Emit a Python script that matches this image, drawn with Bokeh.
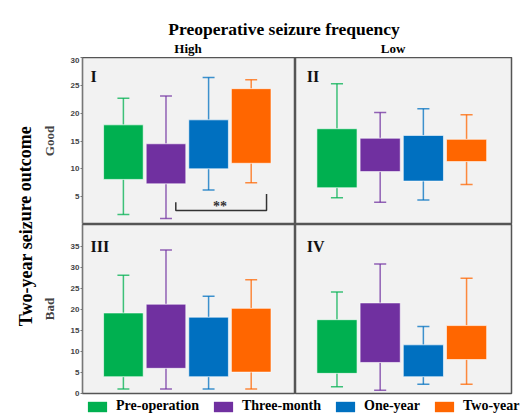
from bokeh.plotting import figure
from bokeh.layouts import row, column
from bokeh.models import Range1d, FixedTicker, Label, Legend, LegendItem, ColumnDataSource
from bokeh.embed import file_html
from bokeh.resources import INLINE
from bokeh.core.properties import value

# ---------------- data ----------------
groups = ["Pre-operation", "Three-month", "One-year", "Two-year"]
colors = ["#00B050", "#7030A0", "#0070C0", "#FF6600"]
positions = [1, 2, 3, 4]

# Panel I : High frequency, Good outcome
p1_low = [1.8, 1.1, 6.2, 7.5]
p1_q1 = [8.1, 7.3, 10.0, 11.0]
p1_q3 = [17.9, 14.5, 18.8, 24.4]
p1_high = [22.7, 23.1, 26.4, 26.0]

# Panel II : Low frequency, Good outcome
p2_low = [4.8, 4.0, 4.4, 7.2]
p2_q1 = [6.6, 9.5, 7.8, 11.3]
p2_q3 = [17.2, 15.5, 16.0, 15.3]
p2_high = [25.3, 20.1, 20.8, 19.7]

# Panel III : High frequency, Bad outcome
p3_low = [1.1, 1.1, 1.1, 1.1]
p3_q1 = [4.0, 6.0, 4.0, 5.1]
p3_q3 = [19.2, 21.3, 18.2, 20.3]
p3_high = [28.2, 34.2, 23.2, 27.1]

# Panel IV : Low frequency, Bad outcome
p4_low = [1.6, 0.8, 2.2, 2.2]
p4_q1 = [4.8, 7.4, 4.0, 8.1]
p4_q3 = [17.6, 21.6, 11.6, 16.2]
p4_high = [24.2, 30.9, 16.0, 27.5]

top_ticks = [5, 10, 15, 20, 25, 30]
bottom_ticks = [0, 5, 10, 15, 20, 25, 30, 35]

# significance bracket in panel I (One-year vs Two-year region)
bracket_x = [2.23, 2.23, 4.36, 4.36]
bracket_y = [4.0, 2.5, 2.5, 5.5]
sig_text = "**"

SERIF = "Liberation Serif"
BG = "#F2F2F2"
BOX_W = 0.93
CAP_W = 0.28


def panel(width, height, yr, left_border, right_border, bottom_border, show_axis, ticks, ylabel):
    p = figure(width=width, height=height, output_backend="svg", toolbar_location=None,
               x_range=Range1d(0.04, 5.04), y_range=yr,
               x_axis_location=None, y_axis_location="left" if show_axis else None,
               min_border_left=left_border, min_border_right=right_border,
               min_border_top=0, min_border_bottom=bottom_border)
    p.background_fill_color = BG
    p.border_fill_color = "white"
    p.grid.visible = False
    p.outline_line_color = "#555555"
    p.outline_line_width = 1.5
    if show_axis:
        ax = p.yaxis[0]
        ax.ticker = FixedTicker(ticks=ticks)
        ax.major_tick_out = 2
        ax.major_tick_in = 0
        ax.minor_tick_out = 0
        ax.minor_tick_in = 0
        ax.major_label_standoff = 1
        ax.major_label_text_font = "Liberation Sans"
        ax.major_label_text_font_size = "8px"
        ax.major_label_text_font_style = "bold"
        ax.major_label_text_color = "#444444"
        ax.axis_line_color = "#777777"
        ax.major_tick_line_color = "#777777"
        ax.axis_label = ylabel
        ax.axis_label_text_font = SERIF
        ax.axis_label_text_font_style = "bold"
        ax.axis_label_text_font_size = "13px"
        ax.axis_label_standoff = 11
    return p


def draw_boxes(p, low, q1, q3, high):
    src = ColumnDataSource(dict(x=positions, low=low, q1=q1, q3=q3, high=high,
                                color=colors,
                                capl=[x - CAP_W / 2 for x in positions],
                                capr=[x + CAP_W / 2 for x in positions]))
    for y0, y1 in (("low", "q1"), ("q3", "high")):
        p.segment(x0="x", y0=y0, x1="x", y1=y1, source=src, line_color="color",
                  line_alpha=0.75, line_width=1.5)
    for yy in ("low", "high"):
        p.segment(x0="capl", y0=yy, x1="capr", y1=yy, source=src, line_color="color",
                  line_alpha=0.75, line_width=1.5)
    p.vbar(x="x", width=BOX_W, bottom="q1", top="q3", source=src, fill_color="color",
           line_color="white", line_alpha=0.6, line_width=1)


def roman(p, text, x, y):
    p.add_layout(Label(x=x, y=y, text=text, text_font=SERIF, text_font_style="bold",
                       text_font_size="16px", text_color="#111111",
                       text_baseline="alphabetic", text_align="left"))


TOP_H = 167
BOT_FRAME = 169
BOT_PAD = 4

fI = panel(257, TOP_H, Range1d(0, 30), 42, 0, 0, True, top_ticks, "Good")
fII = panel(227, TOP_H, Range1d(0, 30), 0, 11, 0, False, top_ticks, "")
fIII = panel(257, BOT_FRAME + BOT_PAD, Range1d(0, 40.3), 42, 0, BOT_PAD, True, bottom_ticks, "Bad")
fIV = panel(227, BOT_FRAME + BOT_PAD, Range1d(0, 40.3), 0, 11, BOT_PAD, False, bottom_ticks, "")

draw_boxes(fI, p1_low, p1_q1, p1_q3, p1_high)
draw_boxes(fII, p2_low, p2_q1, p2_q3, p2_high)
draw_boxes(fIII, p3_low, p3_q1, p3_q3, p3_high)
draw_boxes(fIV, p4_low, p4_q1, p4_q3, p4_high)

fI.line(x=bracket_x, y=bracket_y, line_color="#333333", line_width=1.5)
fI.text(x=[3.27], y=[3.3], text=[sig_text], text_font=value(SERIF), text_font_style="bold",
        text_font_size="14px", text_align="center", text_baseline="alphabetic",
        text_color="#333333")

roman(fI, "I", 0.23, 26.5)
roman(fII, "II", 0.30, 26.5)
roman(fIII, "III", 0.23, 35.1)
roman(fIV, "IV", 0.30, 35.1)

# header with overall title and column titles (pixel coordinates)
head = figure(width=484, height=57, output_backend="svg", toolbar_location=None,
              x_range=Range1d(38, 522), y_range=Range1d(0, 57),
              x_axis_location=None, y_axis_location=None,
              min_border=0)
head.grid.visible = False
head.outline_line_color = None
head.add_layout(Label(x=283.5, y=29, text="Preoperative seizure frequency", text_font=SERIF,
                      text_font_style="bold", text_font_size="17.5px", text_align="center",
                      text_baseline="alphabetic", text_color="black"))
head.add_layout(Label(x=187.5, y=9, text="High", text_font=SERIF, text_font_style="bold",
                      text_font_size="13px", text_align="center", text_baseline="alphabetic",
                      text_color="black"))
head.add_layout(Label(x=392.5, y=9, text="Low", text_font=SERIF, text_font_style="bold",
                      text_font_size="13px", text_align="center", text_baseline="alphabetic",
                      text_color="black"))

TOTAL_H = 57 + TOP_H + BOT_FRAME + BOT_PAD + 17

# side figure with the row title
side = figure(width=38, height=TOTAL_H, output_backend="svg", toolbar_location=None,
              x_range=Range1d(0, 38), y_range=Range1d(TOTAL_H, 0),
              x_axis_location=None, y_axis_location=None, min_border=0)
side.grid.visible = False
side.outline_line_color = None
side.add_layout(Label(x=25, y=225.5, text="Two-year seizure outcome", text_font=SERIF,
                      text_font_style="bold", text_font_size="18px", text_align="center",
                      text_baseline="middle", angle=1.5708, text_color="black"))

# legend strip
leg = figure(width=484, height=17, output_backend="svg", toolbar_location=None,
             x_range=Range1d(0, 1), y_range=Range1d(0, 1),
             x_axis_location=None, y_axis_location=None, min_border=0)
leg.grid.visible = False
leg.outline_line_color = None
items = []
for g, c in zip(groups, colors):
    r = leg.quad(left=[2], right=[3], top=[3], bottom=[2], fill_color=c, line_color=None)
    items.append(LegendItem(label=g, renderers=[r]))
legend = Legend(items=items, orientation="horizontal", location=(47, 0),
                glyph_width=24, glyph_height=13, label_height=13, label_standoff=7,
                spacing=12, padding=0, margin=0, border_line_color=None,
                background_fill_alpha=0, label_text_font=SERIF,
                label_text_font_style="bold", label_text_font_size="14px",
                label_text_color="black")
leg.add_layout(legend, "center")

layout = row(side, column(head, row(fI, fII), row(fIII, fIV), leg))

open("out.html", "w").write(file_html(layout, INLINE))
